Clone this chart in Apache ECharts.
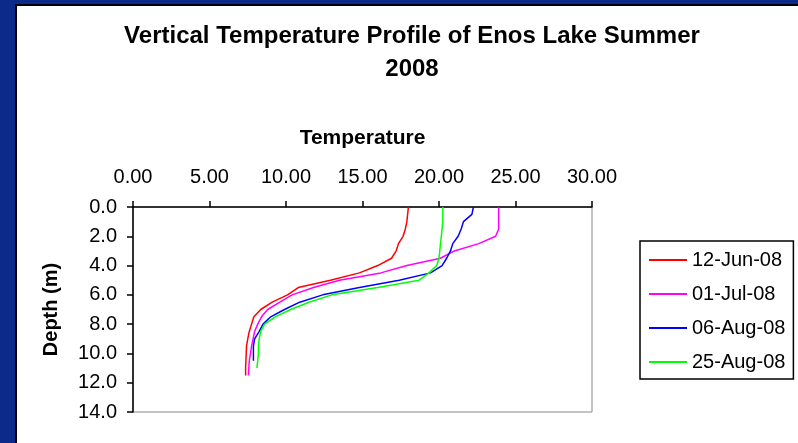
<!DOCTYPE html>
<html>
<head>
<meta charset="utf-8">
<script src="https://cdn.jsdelivr.net/npm/echarts@6/dist/echarts.min.js"></script>
<style>
html,body{margin:0;padding:0;}
#bg{position:absolute;left:0;top:0;width:798px;height:443px;background:#0b2a8a;overflow:hidden;}
#panel{position:absolute;left:15px;top:4px;width:790px;height:450px;background:#fff;border-left:2px solid #000;border-top:2px solid #000;}
#chart{position:absolute;left:0;top:0;width:798px;height:443px;}
</style>
</head>
<body>
<div id="bg"><div id="panel"></div><div id="chart"></div></div>
<script>
// Depth (m) sample levels
var depths = [0,0.5,1,1.5,2,2.5,3,3.5,4,4.5,5,5.5,6,6.5,7,7.5,8,8.5,9,9.5,10,10.5,11,11.5];
var seriesNames = ['12-Jun-08','01-Jul-08','06-Aug-08','25-Aug-08'];
var tempJun12 = [18.0,17.95,17.9,17.8,17.65,17.35,17.2,16.9,16.0,14.8,12.9,10.8,10.1,9.1,8.35,7.9,7.75,7.6,7.5,7.42,7.4,7.38,7.36,7.36];
var tempJul01 = [23.9,23.9,23.9,23.9,23.7,22.6,21.0,20.1,17.9,16.2,13.5,11.8,10.4,9.6,8.8,8.4,8.15,7.95,7.85,7.75,7.68,7.6,7.57,7.55];
var tempAug06 = [22.25,22.15,21.6,21.45,21.25,20.9,20.75,20.5,20.2,19.45,17.4,14.8,12.4,10.9,9.9,9.0,8.5,8.25,7.95,7.87,7.87,7.87];
var tempAug25 = [20.25,20.25,20.25,20.2,20.15,20.1,20.05,20.0,19.85,19.35,18.7,16.0,13.0,11.5,10.3,9.3,8.6,8.35,8.25,8.2,8.2,8.15,8.1];
var colors = ['#ff0000','#ff00ff','#0000ff','#00ff00'];
var xTicks = {min:0,max:30,interval:5};
var yTicks = {min:0,max:14,interval:2};

function pairs(temps){ return temps.map(function(t,i){ return [t, depths[i]]; }); }
var allTemps = [tempJun12,tempJul01,tempAug06,tempAug25];
var FONT = '"Liberation Sans", Arial, sans-serif';

var chart = echarts.init(document.getElementById('chart'));
chart.setOption({
  backgroundColor: 'transparent',
  animation: false,
  title: {
    text: 'Vertical Temperature Profile of Enos Lake Summer\n2008',
    left: 407, top: 15, textAlign: 'center',
    textStyle: {fontFamily: FONT, fontWeight: 'bold', fontSize: 24, lineHeight: 33, color: '#000'}
  },
  legend: {
    orient: 'vertical', left: 640, top: 241,
    padding: [9, 8, 7, 9],
    icon: 'rect',
    itemWidth: 38, itemHeight: 2, itemGap: 14,
    borderColor: '#000', borderWidth: 1.5,
    textStyle: {fontFamily: FONT, fontSize: 20, lineHeight: 20, color: '#000'},
    data: seriesNames
  },
  grid: {left: 133, top: 207, width: 459, height: 205, show: true, borderColor: '#888', borderWidth: 1, backgroundColor: 'transparent'},
  xAxis: {
    type: 'value', position: 'top', min: xTicks.min, max: xTicks.max, interval: xTicks.interval,
    name: 'Temperature', nameLocation: 'middle', nameGap: 58,
    nameTextStyle: {fontFamily: FONT, fontWeight: 'bold', fontSize: 21, color: '#000'},
    axisLine: {show: true, lineStyle: {color: '#000', width: 1.5}},
    axisTick: {show: true, inside: false, length: 6, lineStyle: {color: '#000', width: 1.5}},
    axisLabel: {margin: 20, fontFamily: FONT, fontSize: 20, color: '#000', formatter: function(v){return v.toFixed(2);}},
    splitLine: {show: false}
  },
  yAxis: {
    type: 'value', inverse: true, min: yTicks.min, max: yTicks.max, interval: yTicks.interval,
    name: 'Depth (m)', nameLocation: 'middle', nameGap: 72,
    nameTextStyle: {fontFamily: FONT, fontWeight: 'bold', fontSize: 20, color: '#000'},
    axisLine: {show: true, lineStyle: {color: '#000', width: 1.5}},
    axisTick: {show: true, inside: false, length: 6, lineStyle: {color: '#000', width: 1.5}},
    axisLabel: {margin: 16, fontFamily: FONT, fontSize: 20, color: '#000', formatter: function(v){return v.toFixed(1);}},
    splitLine: {show: false}
  },
  series: seriesNames.map(function(n,i){
    return {
      name: n, type: 'line', data: pairs(allTemps[i]),
      symbol: 'none', showSymbol: false, smooth: false,
      lineStyle: {color: colors[i], width: 1.5},
      itemStyle: {color: colors[i]}
    };
  })
});
</script>
</body>
</html>
